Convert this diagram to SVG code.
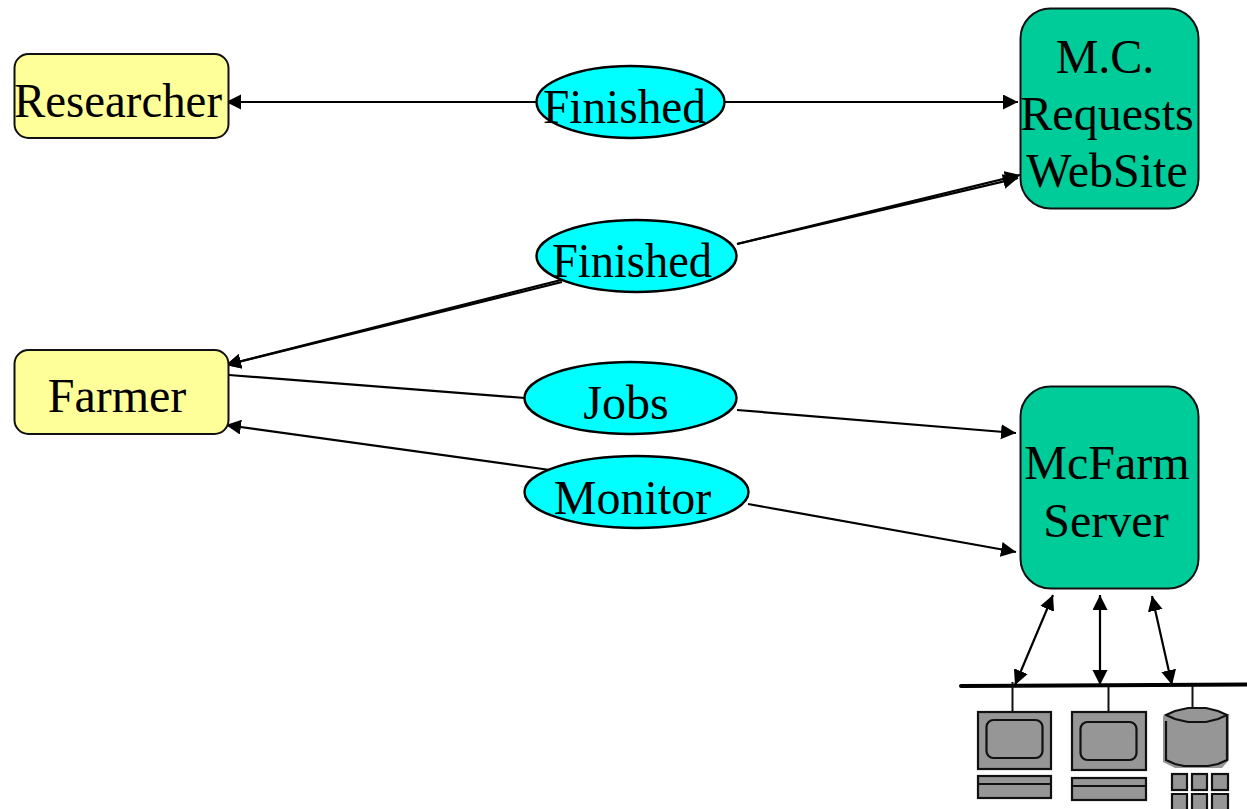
<svg xmlns="http://www.w3.org/2000/svg" width="1247" height="809" viewBox="0 0 1247 809">
<style>
.t{font-family:"Liberation Serif","Times New Roman",serif;font-size:48px;fill:#000;text-anchor:middle}
.y{fill:#ffff99;stroke:#111;stroke-width:2}
.g{fill:#00cc99;stroke:#111;stroke-width:2}
.e{fill:#00ffff;stroke:#000;stroke-width:2.4}
.l{stroke:#000;stroke-width:2.2;fill:none}
.d{fill:#969696;stroke:#111;stroke-width:2.2}
.c{stroke:#111;stroke-width:2;fill:none}
</style>
<defs>
<marker id="a" markerUnits="userSpaceOnUse" markerWidth="17" markerHeight="16" refX="15" refY="7.500" orient="auto"><path d="M0 0L15 7.500L0 15Z" fill="#000"/></marker>
<marker id="s" markerUnits="userSpaceOnUse" markerWidth="17" markerHeight="16" refX="15" refY="7.500" orient="auto-start-reverse"><path d="M0 0L15 7.500L0 15Z" fill="#000"/></marker>
</defs>
<g id="connectors">
<path class="l" marker-end="url(#a)" d="M537 102H226"/>
<path class="l" marker-end="url(#a)" d="M724 102H1018"/>
<path class="l" marker-end="url(#a)" d="M737 244L1020 175"/>
<path class="l" marker-end="url(#a)" d="M737 244L1018 178"/>
<path class="l" marker-end="url(#a)" d="M565 279L226 365"/>
<path class="l" marker-end="url(#a)" d="M562 282L226 365"/>
<path class="l" d="M229 375L525 398"/>
<path class="l" marker-end="url(#a)" d="M737 410L1016 433"/>
<path class="l" marker-end="url(#a)" d="M550 470L226 425"/>
<path class="l" marker-end="url(#a)" d="M748 504L1016 552"/>
<path class="l" marker-start="url(#s)" marker-end="url(#s)" d="M1053 595L1015 685"/>
<path class="l" marker-start="url(#s)" marker-end="url(#s)" d="M1100 595V685"/>
<path class="l" marker-start="url(#s)" marker-end="url(#s)" d="M1152 596L1172 685"/>
</g>
<g id="researcher"><rect class="y" x="14.500" y="54" width="214" height="84" rx="14"/><text class="t" x="118" y="117" textLength="208" lengthAdjust="spacingAndGlyphs">Researcher</text></g>
<g id="farmer"><rect class="y" x="14.500" y="350" width="214" height="84" rx="14"/><text class="t" x="117" y="412">Farmer</text></g>
<g id="website"><rect class="g" x="1020.500" y="8.500" width="178" height="200" rx="30"/><text class="t" x="1105" y="73">M.C.</text><text class="t" x="1107" y="130">Requests</text><text class="t" x="1107" y="187">WebSite</text></g>
<g id="server"><rect class="g" x="1020.500" y="386.500" width="178" height="202" rx="30"/><text class="t" x="1107" y="479">McFarm</text><text class="t" x="1106" y="537">Server</text></g>
<g id="finished-top"><ellipse class="e" cx="630.500" cy="102" rx="94" ry="36"/><text class="t" x="624.500" y="123" textLength="163" lengthAdjust="spacingAndGlyphs">Finished</text></g>
<g id="finished-mid"><ellipse class="e" cx="636.500" cy="256" rx="100" ry="36"/><text class="t" x="632" y="277" textLength="160" lengthAdjust="spacingAndGlyphs">Finished</text></g>
<g id="jobs"><ellipse class="e" cx="630.500" cy="398" rx="106" ry="36"/><text class="t" x="626" y="419">Jobs</text></g>
<g id="monitor"><ellipse class="e" cx="636.500" cy="492" rx="112" ry="36"/><text class="t" x="632.500" y="514">Monitor</text></g>
<g id="network">
<path d="M961 686L1247 684.500" stroke="#000" stroke-width="4" stroke-linecap="round" fill="none"/>
<path class="c" d="M1012.500 682V712M1108.500 686V712M1192.500 686V708"/>
<rect class="d" x="978" y="712" width="73" height="57"/><rect class="d" x="986.500" y="720" width="56" height="38" rx="7"/>
<rect class="d" x="978" y="776" width="73" height="22"/><path class="c" d="M978 784H1051"/>
<rect class="d" x="1072" y="712" width="74" height="58"/><rect class="d" x="1080.500" y="722" width="56" height="38" rx="7"/>
<rect class="d" x="1072" y="778" width="74" height="22"/><path class="c" d="M1072 786H1146"/>
<path d="M1163 716V762L1175 768H1222L1229 760V716Z" fill="#969696"/>
<path class="d" d="M1166 721V760L1175 764L1184 766H1208L1218 764L1227 760V716"/>
<path class="d" d="M1166 715L1175 711L1188 708H1206L1218 711L1227 715L1218 719L1206 722H1188L1175 719Z"/>
<rect class="d" x="1172" y="774" width="15" height="16"/><rect class="d" x="1192" y="774" width="15" height="16"/><rect class="d" x="1212" y="774" width="16" height="16"/>
<path class="d" d="M1172 809V794H1187V809M1192 809V794H1207V809M1212 809V794H1228V809"/>
</g>
</svg>
